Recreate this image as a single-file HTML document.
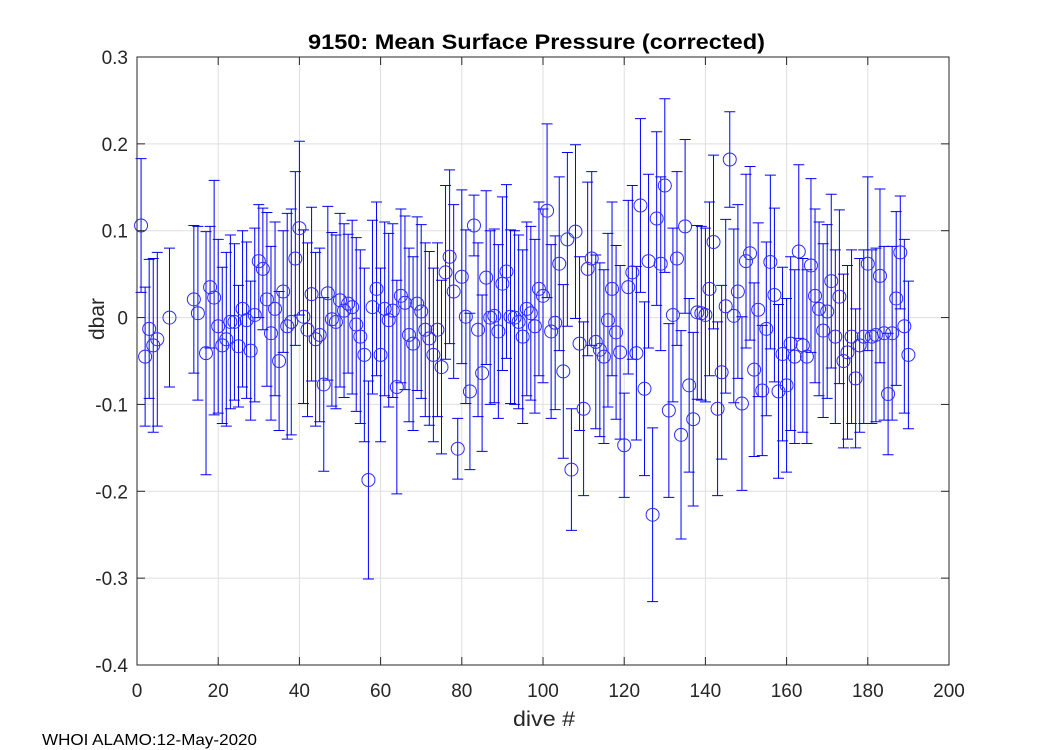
<!DOCTYPE html>
<html><head><meta charset="utf-8"><style>
body{margin:0;background:#fff;width:1050px;height:750px;overflow:hidden;font-family:"Liberation Sans",sans-serif}
svg{position:absolute;left:0;top:0}
</style></head><body>
<svg id="chart" width="1050" height="750" xmlns="http://www.w3.org/2000/svg">
<rect x="0" y="0" width="1050" height="750" fill="#fff"/>
<g id="grid"></g>
<g id="bars"></g>
<g id="marks"></g>
<rect x="137" y="57" width="812" height="608" fill="none" stroke="#262626" stroke-width="1"/>
<g id="ticks"></g>
<text x="308" y="49" textLength="457" lengthAdjust="spacingAndGlyphs" font-size="21" font-weight="bold" fill="#000">9150: Mean Surface Pressure (corrected)</text>
<text x="513" y="726" textLength="62" lengthAdjust="spacingAndGlyphs" font-size="21" fill="#262626">dive #</text>
<text x="0" y="0" transform="translate(104,340) rotate(-90)" textLength="42" lengthAdjust="spacingAndGlyphs" font-size="21" fill="#262626">dbar</text>
<text x="42" y="745" textLength="215" lengthAdjust="spacingAndGlyphs" font-size="16" fill="#000">WHOI ALAMO:12-May-2020</text>
</svg>
<script>
const dives=[1,2,3,4,5,8,14,15,17,18,19,20,21,22,23,24,25,26,27,28,29,30,31,32,33,34,35,36,37,38,39,40,41,42,43,44,45,46,47,48,49,50,51,52,53,54,55,56,57,58,59,60,61,62,63,64,65,66,67,68,69,70,71,72,73,74,75,76,77,78,79,80,81,82,83,84,85,86,87,88,89,90,91,92,93,94,95,96,97,98,99,100,101,102,103,104,105,106,107,108,109,110,111,112,113,114,115,116,117,118,119,120,121,122,123,124,125,126,127,128,129,130,131,132,133,134,135,136,137,138,139,140,141,142,143,144,145,146,147,148,149,150,151,152,153,154,155,156,157,158,159,160,161,162,163,164,165,166,167,168,169,170,171,172,173,174,175,176,177,178,179,180,181,182,183,184,185,186,187,188,189,190];
const pressure=[0.106,-0.045,-0.013,-0.032,-0.025,0,0.021,0.005,-0.041,0.035,0.023,-0.01,-0.032,-0.025,-0.005,-0.005,-0.033,0.01,-0.003,-0.038,0.003,0.065,0.056,0.021,-0.018,0.01,-0.05,0.03,-0.01,-0.005,0.068,0.103,0.001,-0.014,0.027,-0.025,-0.02,-0.077,0.028,-0.002,-0.005,0.02,0.008,0.016,0.012,-0.008,-0.022,-0.043,-0.187,0.012,0.033,-0.043,0.01,-0.003,0.008,-0.08,0.025,0.017,-0.02,-0.03,0.016,0.007,-0.014,-0.024,-0.043,-0.014,-0.057,0.052,0.07,0.03,-0.151,0.047,0.001,-0.085,0.106,-0.014,-0.064,0.046,0,0.002,-0.016,0.039,0.053,0.001,0,-0.005,-0.022,0.01,0.005,-0.01,0.033,0.025,0.123,-0.016,-0.006,0.062,-0.062,0.09,-0.175,0.099,-0.03,-0.105,0.056,0.068,-0.028,-0.037,-0.045,-0.003,0.033,-0.017,-0.04,-0.147,0.035,0.052,-0.041,0.129,-0.082,0.065,-0.227,0.114,0.062,0.152,-0.107,0.003,0.068,-0.135,0.105,-0.078,-0.117,0.006,0.005,0.003,0.033,0.087,-0.105,-0.063,0.013,0.182,0.002,0.03,-0.099,0.065,0.074,-0.06,0.009,-0.084,-0.013,0.064,0.026,-0.085,-0.042,-0.078,-0.03,-0.045,0.076,-0.032,-0.045,0.06,0.025,0.01,-0.015,0.007,0.042,-0.022,0.024,-0.05,-0.04,-0.022,-0.07,-0.032,-0.022,0.062,-0.022,-0.02,0.048,-0.018,-0.088,-0.018,0.022,0.075,-0.01,-0.043];
const errs=[0.077,0.08,0.08,0.1,0.1,0.08,0.085,0.1,0.14,0.07,0.135,0.1,0.09,0.1,0.1,0.09,0.07,0.09,0.09,0.08,0.1,0.065,0.07,0.1,0.1,0.1,0.08,0.07,0.13,0.13,0.1,0.1,0.1,0.1,0.1,0.1,0.1,0.1,0.1,0.1,0.1,0.1,0.1,0.08,0.1,0.1,0.1,0.1,0.114,0.1,0.1,0.1,0.1,0.1,0.1,0.123,0.1,0.1,0.1,0.1,0.1,0.1,0.1,0.1,0.1,0.1,0.1,0.1,0.1,0.1,0.035,0.1,0.1,0.09,0.035,0.1,0.09,0.1,0.1,0.1,0.1,0.1,0.1,0.1,0.1,0.1,0.1,0.1,0.1,0.1,0.1,0.1,0.1,0.1,0.1,0.1,0.1,0.1,0.07,0.1,0.1,0.1,0.1,0.1,0.1,0.1,0.1,0.1,0.1,0.1,0.1,0.06,0.1,0.1,0.1,0.1,0.1,0.1,0.1,0.1,0.1,0.1,0.1,0.1,0.1,0.12,0.1,0.1,0.1,0.1,0.1,0.1,0.1,0.1,0.1,0.1,0.1,0.055,0.1,0.1,0.1,0.1,0.1,0.1,0.1,0.075,0.1,0.1,0.1,0.1,0.1,0.1,0.1,0.1,0.1,0.1,0.1,0.1,0.1,0.1,0.1,0.1,0.1,0.1,0.1,0.1,0.1,0.1,0.08,0.1,0.1,0.1,0.1,0.1,0.1,0.1,0.07,0.1,0.1,0.065,0.1,0.085];
const xTicks=[0,20,40,60,80,100,120,140,160,180,200];
const yTicks=[-0.4,-0.3,-0.2,-0.1,0,0.1,0.2,0.3];
const yTickLabels=["-0.4","-0.3","-0.2","-0.1","0","0.1","0.2","0.3"];
const NS="http://www.w3.org/2000/svg";
const L=137,R=949,T=57,B=665;
function sx(v){return L+(v-0)/(200-0)*(R-L);}
function sy(v){return B-(v-(-0.4))/(0.3-(-0.4))*(B-T);}
function mk(tag,attrs,parent){const e=document.createElementNS(NS,tag);for(const k in attrs)e.setAttribute(k,attrs[k]);parent.appendChild(e);return e;}
const grid=document.getElementById('grid'),ticks=document.getElementById('ticks'),bars=document.getElementById('bars'),marks=document.getElementById('marks');
xTicks.forEach(t=>{
  const x=sx(t);
  const g=mk('line',{x1:x,x2:x,y1:T,y2:B,stroke:'#dfdfdf','stroke-width':1},grid);
  
  
  const a=mk('line',{x1:x,x2:x,y1:B,y2:B-8,stroke:'#262626'},ticks);
  
  
  const b=mk('line',{x1:x,x2:x,y1:T,y2:T+8,stroke:'#262626'},ticks);
  
  
  const tx=mk('text',{x:x,y:B+32,'text-anchor':'middle','font-size':19,fill:'#262626'},ticks);
  tx.textContent=String(t);
  
  
});
yTicks.forEach((t,i)=>{
  const y=sy(t);
  const g=mk('line',{x1:L,x2:R,y1:y,y2:y,stroke:'#dfdfdf','stroke-width':1},grid);
  
  
  const a=mk('line',{x1:L,x2:L+8,y1:y,y2:y,stroke:'#262626'},ticks);
  
  
  const b=mk('line',{x1:R,x2:R-8,y1:y,y2:y,stroke:'#262626'},ticks);
  
  
  const tx=mk('text',{x:L-9,y:y+7,'text-anchor':'end','font-size':19,fill:'#262626'},ticks);
  tx.textContent=yTickLabels[i];
  
  
});
dives.forEach((d,i)=>{
  const x=sx(d),y=sy(pressure[i]),y1=sy(pressure[i]+errs[i]),y2=sy(pressure[i]-errs[i]);
  const p=mk('path',{d:`M${x},${y1}V${y2}M${x-5.5},${y1}H${x+5.5}M${x-5.5},${y2}H${x+5.5}`,stroke:'#0000ff','stroke-width':1,fill:'none'},bars);
  
  
  const c=mk('circle',{cx:x,cy:y,r:6.5,fill:'none',stroke:'#2b2bff','stroke-width':1},marks);
  
  
});
</script>
</body></html>
